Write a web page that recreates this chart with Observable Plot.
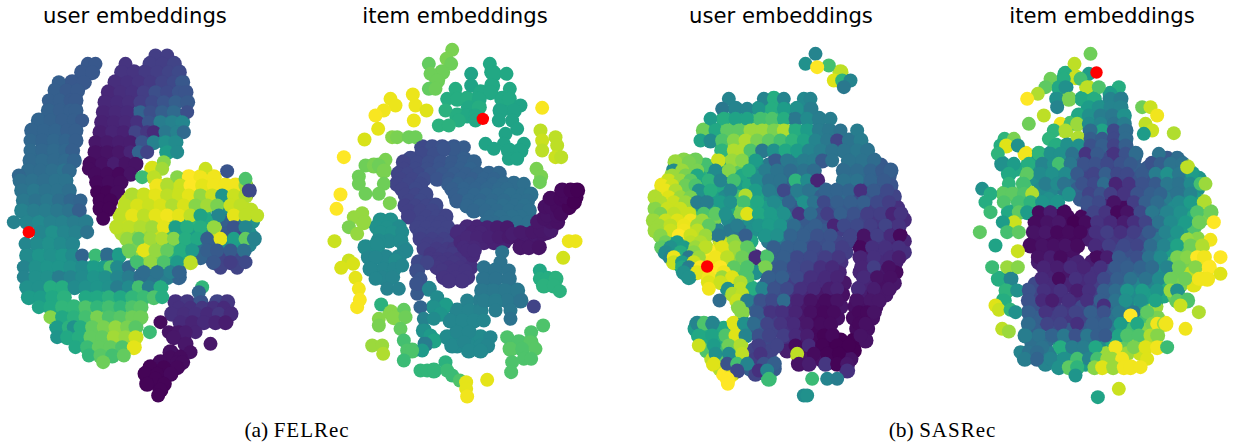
<!DOCTYPE html>
<html><head><meta charset="utf-8">
<script src="https://cdn.jsdelivr.net/npm/d3@7"></script>
<script src="https://cdn.jsdelivr.net/npm/@observablehq/plot@0.6"></script>
<style>
html,body{margin:0;padding:0;background:#fff}
#chart{display:grid;width:1233px;height:446px;position:relative;overflow:hidden;
 grid-template-rows:30px 385px 31px}
.t{font:21.2px "DejaVu Sans";text-align:center;white-space:nowrap;color:#000;align-self:center}
.cap{font:21.5px "Liberation Serif";text-align:center;color:#000;grid-row:3;align-self:center;white-space:nowrap}
.cap tt{font:21px "Liberation Serif";letter-spacing:1px}
.p svg{display:block;overflow:visible}
</style></head><body><div id="chart"></div>
<script>
// rows: [y, x, value, x, value, ...], in an arbitrary embedding space; value 0-100 on viridis
const felrecUser = [
[100,262,27,285,27],[125,245,27,275,27],[155,175,30,215,27,250,27],[180,165,30,198,28,230,28],[210,145,30,178,30,210,28,225,28],[240,145,31,178,30,210,30,225,30],[270,115,32,150,31,185,30,220,30,245,28],
[300,95,32,130,32,165,32,200,30,225,30],[330,90,33,125,32,160,33,195,32,225,30],[360,90,34,125,33,160,34,195,33,215,30],[390,90,34,125,35,160,34,195,34,220,32],[420,85,35,120,35,155,36,190,38,205,34],[435,55,33],
[450,60,36,95,37,130,36,165,38,195,38],[480,65,38,100,40,135,38,170,38,205,36],[510,70,40,105,38,140,40,175,36,210,33,240,32],[540,65,44,100,42,135,42,170,40,205,38,235,30],[575,40,44,80,45,115,47,150,44,185,44,220,42,255,42],
[605,120,46,155,50,190,46,225,44,260,38],[640,75,46,110,48,145,50,180,48,215,46],
[675,80,48,115,52,150,50,185,52,215,48,245,32,285,68,320,35,355,55],[710,70,45,105,50,140,52,175,52,210,50,245,48,280,55,315,55,330,72,350,48,385,35],
[740,70,45,105,50,140,50,175,42,210,45,245,48,280,52,315,50,350,46,385,42,420,35,460,38,500,42,535,32],[770,80,50,115,50,150,62,185,62,222,48,255,50,290,52,325,50,350,42,385,48,415,70,445,42,480,62],
[800,85,55,120,55,155,60,190,64,255,60,290,60,325,64,360,60,395,66,430,68,460,72,485,62],[830,115,58,150,60,185,66,220,66,255,72,290,66,325,70,360,66,395,72,420,74],[860,150,82,185,60,220,64,255,70,290,80,325,72,360,74,395,78,420,78],
[890,170,55,205,64,220,50,240,62,275,76,310,80,345,84,380,80,405,74],[920,170,52,200,60,235,62,270,76,305,76,340,86,375,84,405,92],[950,225,60,260,68,295,76,330,76,365,72,400,96],[975,265,66,300,74,335,70,370,76],[995,308,78]
];
const felrecUserColumn = [
[75,465,18,500,18],[100,375,15,450,18,485,18,520,20],[125,365,15,400,15,435,17,470,18,505,20,535,22],[155,345,13,380,14,415,15,450,17,485,20,520,22,545,27],[185,325,11,360,13,395,14,430,18,465,24,500,22,535,26,555,26],
[215,315,11,350,12,385,13,420,18,455,22,490,26,525,30,560,28],[245,310,10,345,11,380,12,420,32,450,24,485,30,520,34,560,24],[275,305,9,340,10,375,11,410,14,445,26,480,42,515,44,545,46],
[305,300,8,335,10,370,9,405,20,440,16,460,12,495,40,530,44,550,34],[335,285,6,320,7,355,8,390,8,425,26,460,44,495,50,525,48],[365,285,4,320,5,355,6,390,10,415,32,440,20,500,55,530,48],
[400,270,3,305,4,340,8,375,5,405,5],[415,265,3],[430,285,3,320,3,355,2,390,5],[455,290,2,325,3,360,3],[485,290,1,320,1,350,3],[510,300,1,330,1],[535,300,1,325,1],[565,308,1]
];
const felrecUserYellowInfill = [
[510,380,90,415,94,450,96,485,92,520,88,560,94,600,85,640,80,680,70,710,92],[540,390,94,425,92,460,92,495,98,530,96,565,88,610,62,670,50,715,95,750,90],[572,375,92,405,90,440,88,475,96,510,84,545,62,580,65,620,60,680,30,720,40,755,50],
[608,365,88,400,82,435,84,470,92,505,70,540,58,575,55,610,45,650,92,680,28,715,22,745,50],[642,400,80,450,96,485,80,520,70,555,55,600,35,640,30,680,50,720,55,745,45],[680,425,82,470,80,510,62,550,60,600,32,670,20,710,22],[712,450,45,490,50,525,42,660,20,710,20]
];
const felrecUserYellow = [
[395,490,82],[415,455,94,485,86,615,92],[440,425,68,460,90,530,82,565,100,600,98,640,98],[465,470,98,500,88,540,92,570,100,605,96,640,98,675,98,705,98,735,85],
[495,395,88,430,92,465,96,500,90,535,92,565,96,600,84,635,92,665,52,700,92,735,88],[525,375,90,410,94,445,92,480,94,515,88,550,94,585,82,620,86,650,80,690,92,720,90],
[555,360,90,395,96,430,90,465,96,500,98,535,96,570,90,600,58,655,46,700,96,735,90,770,90],[590,350,90,385,90,420,88,455,86,490,96,525,56,560,62,600,62,640,84,700,26,735,46],
[625,380,84,415,76,450,86,485,88,520,82,555,62,590,60,620,30,660,96,700,56,735,76,760,44],[660,385,78,430,96,465,84,500,76,540,62,575,54,620,30,650,28,690,28,730,36],
[695,410,70,450,84,490,72,530,54,570,90,640,27,690,18,735,22],[725,430,35,470,38,510,44,535,32],[422,680,26],[445,735,72],[480,745,22]
];
const felrecUserLower = [
[770,605,66],[785,595,32],[815,525,14,560,16,600,26,650,20,680,16],[832,535,14,570,14,605,16,640,14,670,12],[850,515,14,550,13,585,14,620,12,655,16,690,12],[875,480,3,540,12,575,10,610,12,645,10,675,8],[905,505,5,535,6,448,68,585,10,555,8],[920,520,6],[940,555,6,630,6],[965,510,4,570,4],
[980,510,3,540,3],[995,480,3,530,3,545,3],[1010,450,1,490,1,530,2],[1030,435,1,470,1,510,2],[1045,465,1],[1060,440,1,490,1],[1078,480,1],[1095,473,1]
];
const felrecItem = [
[58,395,80],[85,378,80],[100,325,76,392,78,508,60],[125,365,78,515,60],[130,330,78,520,60,452,58,558,60],[150,350,78],[165,452,58,515,60],[175,325,76,345,78,405,62,568,60],[185,480,60,510,60],[205,380,62,410,62,440,62,475,60,545,60,565,60,210,97],[192,277,97],[225,285,97,600,58,225,97],[230,445,60,475,62],[240,375,64,580,58,540,58,318,95,190,98],[255,410,62,440,60,465,60,165,99],[270,415,62,465,60,535,58,575,58,280,97],[285,355,64,385,64],[295,173,96,590,58],[300,660,90],[310,555,58],[320,215,82,230,80,265,78,285,78,705,90],[327,132,94],[330,665,92],[340,610,58,495,58,550,58],[345,710,90],[355,520,58],[360,665,90,565,58,600,58],[380,70,100,705,92,722,90],[385,565,58,590,58],[232,665,99],
[388,195,80],[405,135,78,160,80,175,78],[415,648,80],[420,190,80],[438,662,80,115,78],[455,658,78],[460,190,78,115,78],[490,135,78,175,78],[492,60,100],[518,208,80],[535,48,100],[548,125,84],[560,100,84],[575,130,84],[590,85,80],[610,110,84],[632,42,92],[690,85,92],[700,98,94],[712,62,94],[742,105,96],[775,115,98],[808,118,99],[830,110,99],[632,765,97,745,97],[682,728,93],
[350,305,22,335,24,365,25,400,27,430,29],[370,305,22,340,24],[355,400,28,370,26],[385,270,22,430,30],[395,250,20,290,22,325,24,360,26,395,28,430,30,460,31],[415,250,20,285,22,320,24,355,26,390,28,420,30,450,32],[430,235,20,262,21,295,22,330,25,365,27,400,29,437,30,470,31,505,32,535,33],[445,240,20,275,21,310,23,350,26,385,28,420,30,455,30,490,32,520,32],[460,230,20,262,21,300,22,385,29,412,31,448,31,482,32,518,33,548,34,580,35,610,36],[475,245,20,285,22,395,30,430,32,465,32,500,33,535,34,560,35],[492,255,20,285,21,315,22,405,30,430,32,462,33,497,34,533,35,570,36,605,36,630,37],[510,265,20,300,22,410,30,445,33,480,33,515,34,550,35,590,36,620,36],[525,255,19,285,20,318,21,345,22,440,33,478,34,512,35,548,36,582,36,612,37],[540,265,19,300,20,335,21,460,33,495,34,530,35,565,36,600,36,625,37],[558,265,19,318,20,350,21,375,20,600,37,575,37,510,35,540,36],[575,300,20,335,20,360,20,520,35,500,35,555,36,590,37,625,37],
[590,290,20,318,20,350,20,380,20],[610,300,20,335,20,365,20],[625,300,19,335,19,370,19],[640,320,18,355,18,385,19],[655,312,18,348,17,380,17,400,16],[670,330,16,365,17,395,17],[685,330,16,352,16,382,16,415,15],[695,345,16,365,16,400,16,440,15],[710,350,16,385,15,420,15,450,14],[720,365,16,400,15,435,15],[740,370,15,405,15,440,15],[750,385,15,425,15],[675,455,12],
[590,440,11,470,10,500,9,530,8,560,7],[605,425,12,455,10,480,10,410,12],[635,420,11,455,10,490,10,520,9,550,9],[620,440,11,470,10,505,9,535,8,565,7,595,6,625,6,650,6],[610,575,8,610,7,640,7,665,6],[605,600,7,635,6,680,6],[650,430,12,460,11,600,6,625,6,655,5],[600,660,6,690,7],[575,650,6,690,5,710,4],[565,670,5],[555,680,5,710,4],[530,675,4,690,4,710,3,740,2],[550,720,3],[505,690,3,720,2,745,1],[530,745,1],[500,735,2,765,0],[515,760,0],[480,725,2,750,1,770,0],[660,440,12,460,12],
[695,295,22,320,20],[720,290,24],[745,300,26],[790,290,28],[760,290,26],[775,325,46],[800,350,48],[825,375,55],[830,300,32,340,50],[850,360,52],[865,310,44,340,48],[900,310,50],[915,330,54],[930,340,58],[940,315,42],[960,305,54],
[570,180,50,210,50],[590,170,50,200,50,235,48],[605,180,50,215,50,245,48],[630,205,48,240,48,175,48],[650,135,48,170,48,250,47],[660,255,46],[640,170,48],[680,145,46,195,46,165,46,235,46],[690,225,48],[715,150,46,190,46,220,46],[705,245,46],[740,185,45,215,45],[745,165,46],[775,200,44,235,44],
[810,440,44,480,42],[840,410,45,445,45,480,44],[870,390,46,425,46,460,46,490,46],[920,380,48,410,48,445,48,480,48,510,46],[905,410,46,445,46],[945,410,47,445,47,480,47,500,46,395,47],[935,430,46],[960,445,47,480,47],
[665,545,38],[695,540,38],[710,490,38],[720,525,38,565,38],[745,490,38,525,38,565,38],[780,485,40,520,40,555,40,590,40],[810,490,42,525,42,560,40,600,38],[815,525,42],[840,525,42,570,40],[865,570,38],
[828,640,20],[720,658,60],[745,658,62,680,62,705,64],[765,670,64,700,64],[782,718,64],
[885,668,72],[905,632,72],[920,560,72],[935,595,72,630,74],[955,570,74,605,72,645,74],[985,610,72,632,72],[995,575,72],[1025,572,72],
[822,182,64],[838,250,76],[845,210,82],[860,220,82,255,78],[865,175,82],[885,175,80],[895,240,76],[930,250,70],[945,155,85,185,85],[960,260,72,275,72],[970,188,88],[990,250,68],
[995,375,64],[1020,380,68,300,66,320,66,340,66],[1035,395,68],[1050,418,72],[1055,437,96],[1075,437,96],[1098,440,98],[1048,500,96]
];
const sasrecUserInfill = [
[405,385,40,425,38,465,40,505,40,640,36,680,34,720,28,195,70,245,60,295,75,350,50],[435,360,42,400,38,435,35,475,40,510,38,630,36,670,34,710,30,745,28,175,62,220,50,265,55,305,60,340,50],[465,365,45,400,38,440,30,520,40,630,34,670,22,710,28,750,26,190,55,235,60,290,55,325,60],
[498,365,50,410,42,455,35,480,48,540,30,575,32,610,34,645,22,685,26,725,22,760,20,170,45,215,55,255,48,290,70,350,58],[532,375,55,420,50,465,28,500,40,535,25,575,26,615,28,650,28,695,18,730,20,770,14,150,88,185,55,225,62,270,60,305,82,340,62],
[568,370,55,405,55,445,40,490,28,545,25,590,20,630,24,670,20,710,16,755,14,790,12,220,80,265,48,320,50],[600,390,55,435,38,470,30,510,30,550,28,590,18,650,18,690,16,730,14,765,10,230,45,270,40,300,38,335,50],
[632,385,40,420,40,465,30,505,26,545,24,585,20,625,20,680,6,720,16,760,10,790,10,240,92,280,82,330,60],[665,410,30,455,26,495,24,535,20,575,18,615,18,665,6,710,14,755,10,790,14,210,100,250,95,290,85,325,72],[695,395,30,445,26,485,22,525,18,565,16,600,14,680,12,720,12,765,8,205,98,260,88,300,85],
[725,400,28,445,24,485,20,525,14,565,12,595,10,660,10,690,12,730,6,765,3,300,72,345,50],[758,380,30,420,24,460,18,500,14,540,12,580,8,610,6,680,10,725,4,760,6],[792,345,40,380,25,420,24,455,14,495,10,540,6,580,4,605,4,660,8,700,5,735,6],[828,345,30,375,18,410,15,445,12,490,6,530,3,570,3,600,6,645,4,670,4,705,4],
[862,360,30,405,18,445,12,485,6,525,2,565,2,590,4,640,3,670,3,695,4],[895,165,55,205,60,250,60,295,95,350,30,400,20,445,14,485,8,525,2,560,1,650,3,680,4],[930,190,60,240,62,280,88,300,80,380,22,440,14,485,6,525,2,560,0,600,0,640,0,675,5],[960,200,72,245,70,285,72,340,20,390,20,440,8,490,5,540,1,575,0,610,0,640,0],
[985,215,90,250,75,290,55,345,18,380,20,510,6,540,4,575,1,610,2,630,5],[1015,240,88,330,30,400,28],[1030,250,100,275,95,345,20]
];
const sasrecUser = [
[70,525,45],[100,495,50],[105,565,70],[125,600,90],[110,530,100],[150,580,95,605,65,630,45],[170,610,40],
[205,265,45,370,45,400,62,430,45,490,47,510,45],[235,245,40,285,45,320,45,355,52,395,62,430,55,470,50,510,42],[265,210,55,250,62,285,58,320,58,360,70,395,72,430,62,465,40,500,48,535,42,570,42],
[300,190,78,225,60,260,75,295,75,330,85,365,85,400,80,430,88,465,62,500,55,535,42,565,40,600,38,650,42],[330,180,58,210,48,245,72,280,82,315,88,350,80,385,75,420,70,455,65,490,58,525,45,560,40,590,20,625,38,660,42],
[360,245,65,280,88,305,88,330,72,365,40,400,50,435,60,470,55,505,45,540,42,575,38,610,38,650,40,680,38],[390,130,82,165,78,235,92,275,85,305,82,345,55,405,28,440,40,490,42,520,42,545,28,575,38,625,38,665,38,700,35],
[395,105,85,145,80],[420,100,48,125,85,170,80,225,48,265,82,325,62,375,42,410,38,450,35,490,38,520,35,610,35,650,35,690,32,725,28,750,30],[435,95,85,135,80,170,60],[450,85,92,120,85,150,75,205,65,240,45,280,70,350,48,385,38,420,38,465,65,500,48,530,10,610,38,650,38,690,32,730,28],
[465,65,97,95,92,135,78,165,72],[480,75,97,105,88,175,50,210,62,270,45,345,55,385,42,430,22,470,42,505,38,555,32,590,32,625,32,660,14,700,28,740,22],[495,315,88],[500,45,88,85,95,120,85,150,80],[515,60,88,100,92,135,85,170,42,200,42,240,55,270,50,310,70,350,60,400,48,445,32,490,50,520,38,550,22,590,30,630,30,670,30,710,22,745,18],
[535,45,82,80,92,120,92],[550,60,80,100,90,145,92,190,72,225,75,255,50,300,80,320,95,355,60,390,55,430,50,475,15,510,35,560,18,600,30,640,25,680,18,720,18,755,10,780,15],[570,40,85,75,92,110,95,150,98,185,85],[585,55,85,90,90,130,97,170,85,205,75,290,42,355,52,385,55,420,52,460,35,525,30,580,10,610,22,650,22,690,18,735,20,775,15],
[600,45,85,90,92,130,98,170,90],[615,60,82,115,100,150,92,195,85,235,40,315,30,375,52,410,50,450,32,490,30,530,25,570,25,630,20,670,5,710,18,750,12,778,2],[635,75,78,110,55,150,90,180,88],[650,65,75,90,50,130,55,165,85,195,90,245,95,285,85,320,75,400,30,440,30,480,30,520,22,565,25,605,18,660,2,695,14,735,14,775,14],
[665,75,48,120,62,160,82],[680,90,45,100,97,145,40,175,85,225,98,260,90,305,78,345,12,380,72,430,30,470,22,510,22,555,18,595,16,660,10,700,14,750,12,775,8],[695,100,92,125,55,160,92],[710,125,60,145,42,180,100,240,100,280,75,320,72,375,80,420,28,460,22,500,20,540,14,575,12,665,10,700,18,745,4],
[725,130,50,170,96,210,100,250,98],[740,145,50,205,98,245,85,275,95,320,72,385,30,425,30,470,22,510,14,555,12,590,10,670,12,710,5,750,4],[755,205,95,240,92,300,88],[775,205,98,262,50,300,90,335,62,365,45,400,25,440,22,480,14,520,12,565,8,590,10,655,12,700,8,745,6],
[790,275,88,305,90],[810,237,35,290,92,320,42,360,25,395,22,430,35,470,10,510,5,555,3,590,5,650,5,690,6,715,6],[830,295,82],[845,305,82,350,28,390,15,425,14,465,10,510,4,550,2,580,3,655,2,680,2,700,5],[880,170,45,190,72,215,45,280,95,310,50,340,35,380,20,420,15,460,12,500,6,540,3,570,3,655,2,675,4],
[915,175,60,215,58,255,72,285,95,315,45,355,25,385,20,430,18,465,12,500,8,550,1,575,2,660,5],[945,175,92,220,55,265,78,300,88,355,18,410,20,465,3,505,12,545,1,590,0,625,0],[970,225,50,265,48,305,90,360,15,470,90,520,3,560,1,595,0],
[1000,220,95,260,25,290,70,320,45,370,25,400,30,475,5,505,8,555,16,590,1,620,6],[1020,290,22,355,14,380,45,620,14],[1045,262,100,385,68,515,68,560,45,590,42],[1060,262,100],[1095,490,48,500,50]
];
const sasrecItemInfill = [
[320,415,30,445,22,480,30],[385,215,55,265,48,355,30,395,25,445,22,480,25,520,30,620,28,650,35],[415,165,60,225,50,260,50,300,45,350,30,385,22,420,22,460,20,495,25,525,30,560,28,600,35,640,38,680,45],
[445,225,50,265,45,300,45,340,35,380,20,415,28,450,18,485,20,525,25,565,25,605,45,640,38,680,45,715,52],[475,240,48,275,46,310,40,350,30,400,22,440,15,475,12,515,18,550,28,590,30,630,38,670,40,710,50],[505,225,50,265,50,360,28,400,20,440,10,490,10,540,22,575,30,620,42,670,45,705,55],
[532,385,24,420,18,455,5,490,3,525,12,560,28,600,38,640,48,685,52],[560,245,3,285,4,320,2,365,2,395,15,430,12,470,5,510,8,540,18,580,30,615,45,650,50,695,60,735,80],[590,240,4,275,4,310,3,345,2,390,8,425,14,465,10,505,14,540,18,585,30,630,46,670,56,700,72],
[625,230,4,270,3,305,3,340,2,385,8,425,14,460,16,500,20,550,24,595,40,635,50,665,60,710,82],[662,260,5,300,4,335,4,425,8,465,22,510,24,550,30,590,42,635,55,670,76,700,88],[695,235,8,270,6,310,8,350,10,395,8,440,20,480,28,520,28,560,36,600,48,640,70,680,80,725,96],
[728,260,10,310,6,355,12,400,14,445,24,485,30,525,34,565,38,610,50,650,78,690,90],[762,225,22,270,12,320,10,370,12,410,18,450,28,490,35,530,46,575,44,615,62,660,80,700,95],[795,225,20,265,12,300,12,345,12,400,18,445,30,480,42,520,48,565,55,610,60,640,78],
[828,230,25,280,14,325,16,365,22,405,24,450,35,500,45,540,60,585,85],[862,230,30,280,18,325,16,370,20,410,28,455,38,500,50,550,70,590,80],[898,225,30,280,24,325,28,365,28,410,30,455,42,510,70,550,82],[935,215,36,255,35,300,40,340,36,385,38,420,48,455,60,490,75,535,85,575,90],[968,265,42,315,52,355,52,390,50,435,85,500,85,540,92],[1000,255,45,310,68,375,55]
];
const sasrecItem = [
[70,390,78],[100,342,90],[130,315,62,385,55],[140,345,92],[145,270,78,310,62,360,70],[170,255,75,295,60,315,50,380,90,415,72,475,62],[190,232,88,450,55],[205,200,100,290,50,325,80,365,60,400,62,450,45,480,42],[230,290,45,385,55,415,50,450,45,480,45,545,78,570,92],
[255,250,90,355,60,385,50,420,42,455,40,490,50,590,98],[280,205,78,300,98,330,70,350,85,385,48,420,45,460,38,490,42,555,90],[300,280,65,315,88,425,58,390,35,460,22,495,35,575,92],[308,640,88],[310,550,55],[325,132,65,160,80,265,65,353,88,390,30,425,28,460,22,495,35],
[345,120,62,137,95,172,50,285,62,320,50,355,50,390,25,425,30,460,20,495,30],[370,112,65,195,98,235,65,270,50,300,50,335,38,375,15,410,28,460,15,495,25,525,35,595,38],[400,125,50,160,55,205,62,245,45,280,50,295,70,330,40,370,25,405,25,440,22,480,25,510,28,575,25,600,30,630,38,665,38],
[430,145,60,200,75,240,48,275,50,315,48,350,28,400,20,435,30,470,22,500,22,545,28,585,42,620,50,655,40,695,55],[410,680,90],[460,145,65,190,70,255,42,290,48,310,38,365,25,400,22,430,35,465,10,505,15,545,25,585,28,620,40,655,38,690,48,720,70,735,85],
[475,65,50],[490,90,62,130,75,155,75,190,72,215,88,325,50,385,20,420,25,450,18,490,15,530,25,570,30,600,32,650,38,690,45],[515,75,62,130,72,175,70,210,65,245,52,290,52,380,25,415,22,460,5,520,18,555,30,590,35,655,48,690,55,730,88],
[545,90,68,145,60,175,75,200,55,235,3,270,8,310,2,400,20,435,15,470,2,500,5,540,22,575,40,620,45,660,50,710,72,750,78],[575,160,92,127,55,225,3,260,5,295,6,340,0,375,3,410,15,450,12,490,8,520,14,555,20,595,38,630,48,675,55,715,78,760,100],
[605,58,75,140,70,175,75,220,5,255,6,290,2,325,3,360,2,405,14,440,18,480,14,520,18,565,28,615,45,650,52],[628,680,84,750,98],[645,105,58,210,3,245,5,280,4,315,5,350,3,405,12,445,18,490,22,530,20,570,35,610,45,650,58,690,78,725,88],[662,172,92],
[680,235,5,270,8,300,3,410,3,440,8,475,28,530,24,565,38,600,48,650,80,680,82,710,100,730,98,780,100],[710,95,68,140,85,172,82,250,10,290,8,330,12,370,10,420,14,465,28,500,30,540,32,575,35,620,45,655,78,705,82,745,100],[730,780,95],
[745,115,62,150,45,245,12,295,3,345,14,390,14,430,22,470,30,510,38,555,38,595,48,630,78,675,78,715,98,740,98],[780,138,65,170,50,205,25,250,14,300,14,350,8,385,14,430,30,465,35,500,52,545,55,590,52,630,85,650,50],
[810,130,62,205,25,245,12,275,8,325,14,380,14,420,30,465,38,495,50,540,50,585,58,650,75,680,72],[825,105,95,430,14,660,92],[838,115,92,150,65],[845,165,50,205,30,255,15,300,18,345,20,390,30,430,25,475,40,520,40,560,75,715,88],[855,510,100],
[880,205,35,260,20,300,20,350,14,395,30,435,30,480,55,530,60,575,80,590,98,610,85,615,98],[895,125,90,675,98],[903,145,85],[915,195,42,235,38,275,32,310,40,345,25,380,40,410,30,435,28,475,58,500,72,535,72,570,88,590,82],
[950,245,38,300,62,335,42,370,42,405,60,465,98,520,80,555,95,590,98,620,68],[965,180,45,205,38,230,35],[985,193,42,230,32,270,45,310,50,350,70,385,45,410,70,440,85,455,85,485,98,560,95],[1010,295,50,325,75,350,65,402,82,425,95,458,85,490,98,510,98,540,98],[1035,345,52],[1075,475,92],[1100,412,58]
];
// the one highlighted user / item of each panel
const redDots = [[85,605],[487,265],[200,708],[408,126]];
const panelTitles = ["user embeddings","item embeddings","user embeddings","item embeddings"];
const captionLabels = [["(a) ","FELRec"],["(b) ","SASRec"]];

const cells = rows => rows.flatMap(([y,...p]) => d3.range(0,p.length,2).map(i => ({x:p[i],y,v:p[i+1]})));
// points inside a dense blob also paint a slightly larger backing disc, so the blob reads as solid
const dense = pts => pts.filter(a => pts.filter(b => a!==b && Math.hypot(a.x-b.x,a.y-b.y)<44).length>=4);
const panels = [
 {cw:300,rows:[...felrecUser,...felrecUserColumn,...felrecUserYellowInfill,...felrecUserYellow,...felrecUserLower]},
 {cw:280,rows:felrecItem},
 {cw:280,rows:[...sasrecUserInfill,...sasrecUser]},
 {cw:270,rows:[...sasrecItemInfill,...sasrecItem]}
];
const root = document.getElementById("chart");
const starts=[0,320,640,960], widths=[320,320,320,273], tcenter=[135,455,781,1102];
root.style.gridTemplateColumns = widths.map(w=>w+"px").join(" ");
panels.forEach((p,i)=>{
  const t=document.createElement("div"); t.className="t"; t.textContent=panelTitles[i];
  t.style.cssText=`grid-row:1;grid-column:${i+1};transform:translateX(${tcenter[i]-starts[i]-widths[i]/2}px)`;
  root.append(t);
  const cw=p.cw, h=385, pts=cells(p.rows);
  const svg=Plot.plot({width:cw,height:h,margin:0,
    x:{domain:[0,cw*3],axis:null},y:{domain:[0,h*3],reverse:true,axis:null},
    color:{type:"linear",scheme:"viridis",domain:[0,100]},
    marks:[
      Plot.dot(dense(pts),{x:"x",y:"y",r:8,fill:"v"}),
      Plot.dot(pts,{x:"x",y:"y",r:7,fill:"v"}),
      Plot.dot([redDots[i]],{x:d=>d[0],y:d=>d[1],r:6.2,fill:"#ff0000"})
    ]});
  const d=document.createElement("div"); d.className="p"; d.style.cssText=`grid-row:2;grid-column:${i+1}`; d.append(svg); root.append(d);
});
captionLabels.forEach(([a,b],i)=>{
  const c=document.createElement("div"); c.className="cap";
  c.style.cssText=`grid-column:${i*2+1}/span 2;transform:translateX(${[-23,6][i]}px)`;
  c.append(a); const tt=document.createElement("tt"); tt.textContent=b; c.append(tt); root.append(c);
});
</script></body></html>
